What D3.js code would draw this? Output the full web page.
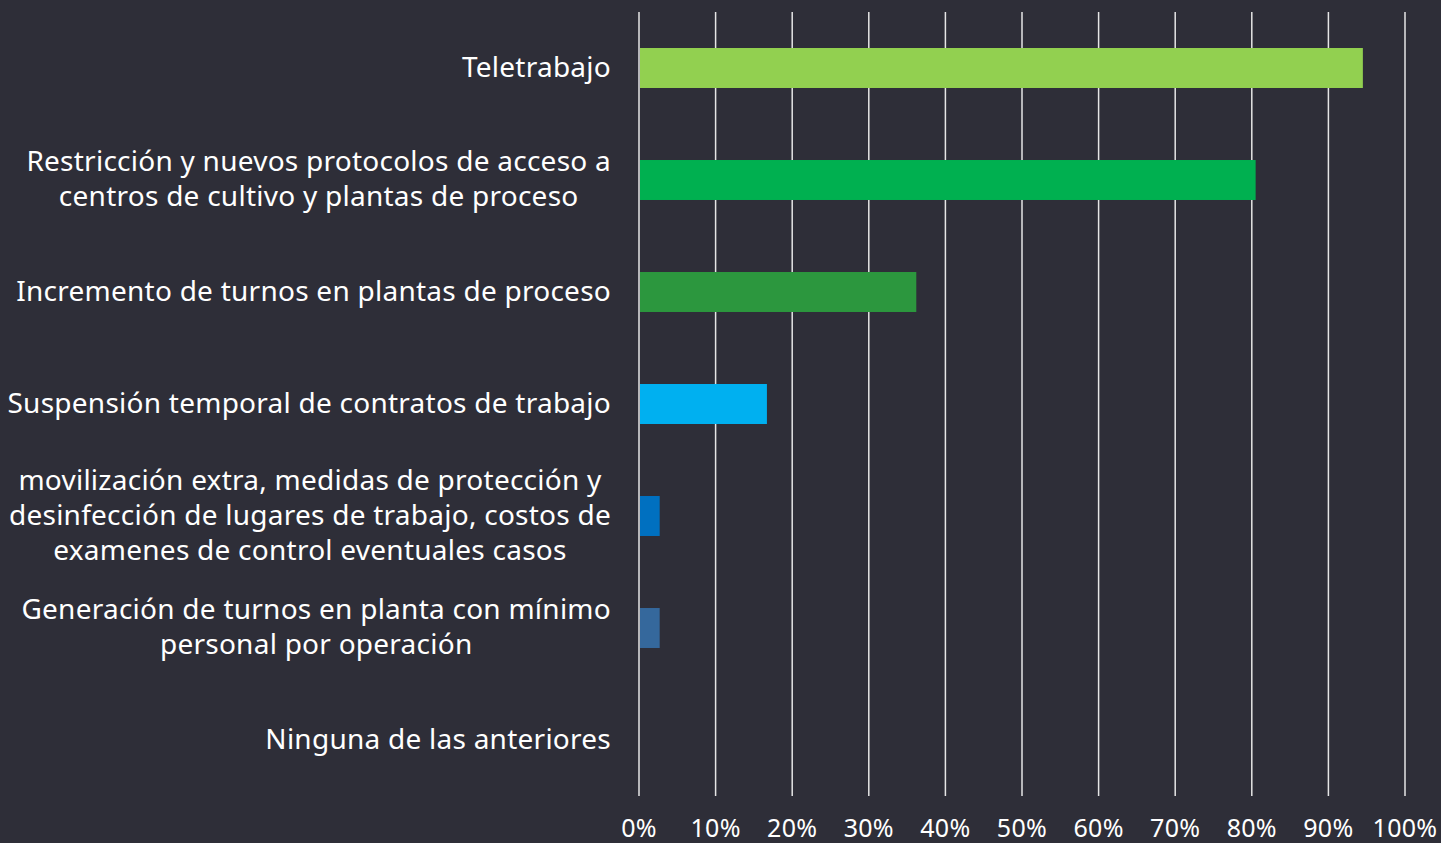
<!DOCTYPE html>
<html>
<head>
<meta charset="utf-8">
<script src="https://cdn.jsdelivr.net/npm/d3@7"></script>
<style>
  html, body { margin: 0; padding: 0; background: #2e2e38; }
  svg { display: block; }
  text { font-family: "Noto Sans", sans-serif; fill: #ffffff; }
</style>
</head>
<body>
<script>
// categories, each split into the lines shown on the chart
const categories = [
    ["Teletrabajo"],
    ["Restricción y nuevos protocolos de acceso a", "centros de cultivo y plantas de proceso"],
    ["Incremento de turnos en plantas de proceso"],
    ["Suspensión temporal de contratos de trabajo"],
    ["movilización extra, medidas de protección y", "desinfección de lugares de trabajo, costos de", "examenes de control eventuales casos"],
    ["Generación de turnos en planta con mínimo", "personal por operación"],
    ["Ninguna de las anteriores"]
];
const values = [94.5, 80.5, 36.2, 16.7, 2.7, 2.7, 0];
const barColors = ["#92d050", "#00b050", "#2c973e", "#00b0f0", "#0070c0", "#35689c", "#35689c"];
const ticks = [0, 10, 20, 30, 40, 50, 60, 70, 80, 90, 100];

const width = 1441;
const height = 843;
const margin = { top: 12, right: 36, bottom: 47, left: 639 };

const svg = d3.select("body")
    .append("svg")
    .attr("width", width)
    .attr("height", height);

const x = d3.scaleLinear()
    .domain([0, 100])
    .range([margin.left, width - margin.right]);

const y = d3.scaleBand()
    .domain(d3.range(categories.length))
    .range([margin.top, height - margin.bottom])
    .paddingInner(0.643)
    .paddingOuter(0.3215);

// vertical grid lines
svg.append("g")
    .selectAll("line")
    .data(ticks)
    .enter()
    .append("line")
    .attr("x1", d => x(d))
    .attr("x2", d => x(d))
    .attr("y1", margin.top)
    .attr("y2", height - margin.bottom)
    .attr("stroke", "#e6e6e6")
    .attr("stroke-width", 1.5);

// bars
svg.append("g")
    .selectAll("rect")
    .data(values)
    .enter()
    .append("rect")
    .attr("x", x(0) + 1)
    .attr("y", (d, i) => y(i))
    .attr("width", d => Math.max(0, x(d) - x(0) - 1))
    .attr("height", y.bandwidth())
    .attr("fill", (d, i) => barColors[i]);

// tick labels
svg.append("g")
    .selectAll("text")
    .data(ticks)
    .enter()
    .append("text")
    .attr("x", d => x(d))
    .attr("y", 837)
    .attr("text-anchor", "middle")
    .attr("font-size", 25)
    .attr("letter-spacing", 0.3)
    .text(d => d + "%");

// category labels: each block centred, widest line ending at the right edge
const labelRight = 611;
const lineHeight = 35;
const labels = svg.append("g")
    .selectAll("text")
    .data(categories)
    .enter()
    .append("text")
    .attr("font-size", 28)
    .attr("letter-spacing", 0.25)
    .attr("text-anchor", "middle");

labels.each(function(lines, i) {
    const t = d3.select(this);
    const cy = y(i) + y.bandwidth() / 2;
    lines.forEach((line, j) => {
        t.append("tspan")
            .attr("y", cy + (j - (lines.length - 1) / 2) * lineHeight)
            .attr("dy", "0.32em")
            .text(line);
    });
    const maxW = d3.max(t.selectAll("tspan").nodes(), n => n.getComputedTextLength());
    t.selectAll("tspan").attr("x", labelRight - maxW / 2);
});
</script>
</body>
</html>
